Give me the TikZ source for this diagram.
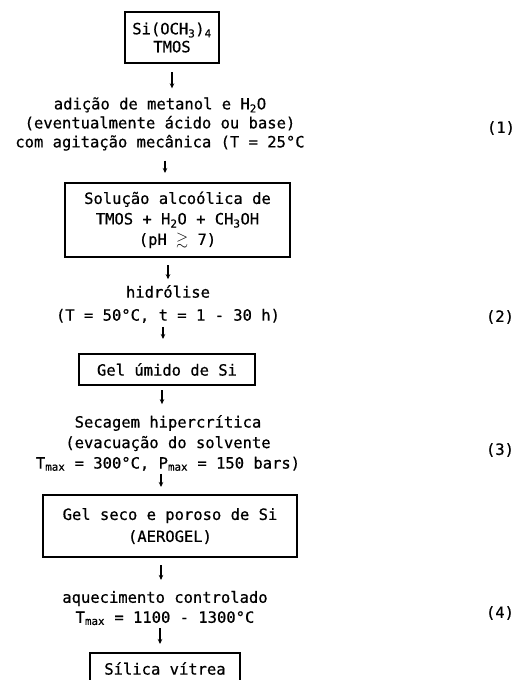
\documentclass[tikz,border=0pt]{standalone}
\usepackage{fontspec}
\setmainfont{DejaVu Sans Mono}[FakeBold=0.6]
\usepackage{amssymb}
\usetikzlibrary{arrows.meta}
\begin{document}
\begin{tikzpicture}[x=1pt,y=-1pt,
  every node/.style={inner sep=0pt, outer sep=0pt, align=center, font=\fontsize{15.5}{20}\selectfont},
  box/.style={draw, line width=1.2pt},
  arr/.style={line width=1.4pt, -{Stealth[length=5pt,width=4.5pt]}}]
\useasboundingbox (0,0) rectangle (521,680);
\clip (0,0) rectangle (521,680);
\node[box, minimum width=94pt, minimum height=51pt, font=\fontsize{15.5}{18}\selectfont] (b1) at (172,37.5) {Si(OCH\textsubscript{3})\textsubscript{4}\\TMOS};
\node[font=\fontsize{15.5}{19}\selectfont] (t1) at (160,124) {adição de metanol e H\textsubscript{2}O\\(eventualmente ácido ou base)\\com agitação mecânica (T = 25°C};
\node[box, minimum width=225pt, minimum height=74pt, font=\fontsize{15.5}{20.5}\selectfont] (b2) at (177.5,220) {Solução alcoólica de\\TMOS + H\textsubscript{2}O + CH\textsubscript{3}OH\\(pH $\gtrsim$ 7)};
\node[font=\fontsize{15.5}{23}\selectfont] (t2) at (168,304) {hidrólise\\(T = 50°C, t = 1 - 30 h)};
\node[box, minimum width=176pt, minimum height=31pt] (b3) at (167,369.5) {Gel úmido de Si};
\node[font=\fontsize{15.5}{20.5}\selectfont] (t3) at (168,443) {Secagem hipercrítica\\(evacuação do solvente\\T\textsubscript{max} = 300°C, P\textsubscript{max} = 150 bars)};
\node[box, minimum width=254pt, minimum height=62pt, font=\fontsize{15.5}{22}\selectfont] (b4) at (170,526) {Gel seco e poroso de Si\\(AEROGEL)};
\node (t4) at (165,608) {aquecimento controlado\\T\textsubscript{max} = 1100 - 1300°C};
\node[box, minimum width=150pt, minimum height=31pt] (b5) at (165,668.5) {Sílica vítrea};
\node (l1) at (501,128) {(1)};
\node (l2) at (500,317) {(2)};
\node (l3) at (500,450) {(3)};
\node (l4) at (500,613) {(4)};
\draw[arr, shorten <=9pt, shorten >=9pt] (b1.south) -- (b1.south |- t1.north);
\draw[arr, shorten <=10pt, shorten >=10pt] ([xshift=5pt]t1.south) -- ([xshift=5pt]t1.south |- b2.north);
\draw[arr, shorten <=8pt, shorten >=6pt] (t2.north |- b2.south) -- (t2.north);
\draw[arr, shorten <=4pt, shorten >=15pt] ([xshift=-5pt]t2.south) -- ([xshift=-5pt]t2.south |- b3.north);
\draw[arr, shorten <=5pt, shorten >=11pt] ([xshift=-5pt]b3.south) -- ([xshift=-5pt]b3.south |- t3.north);
\draw[arr, shorten <=3pt, shorten >=8pt] ([xshift=-7pt]t3.south) -- ([xshift=-7pt]t3.south |- b4.north);
\draw[arr, shorten <=8pt, shorten >=11pt] ([xshift=-9pt]b4.south) -- ([xshift=-9pt]b4.south |- t4.north);
\draw[arr, shorten <=3pt, shorten >=9pt] ([xshift=-5pt]t4.south) -- ([xshift=-5pt]t4.south |- b5.north);
\end{tikzpicture}
\end{document}
